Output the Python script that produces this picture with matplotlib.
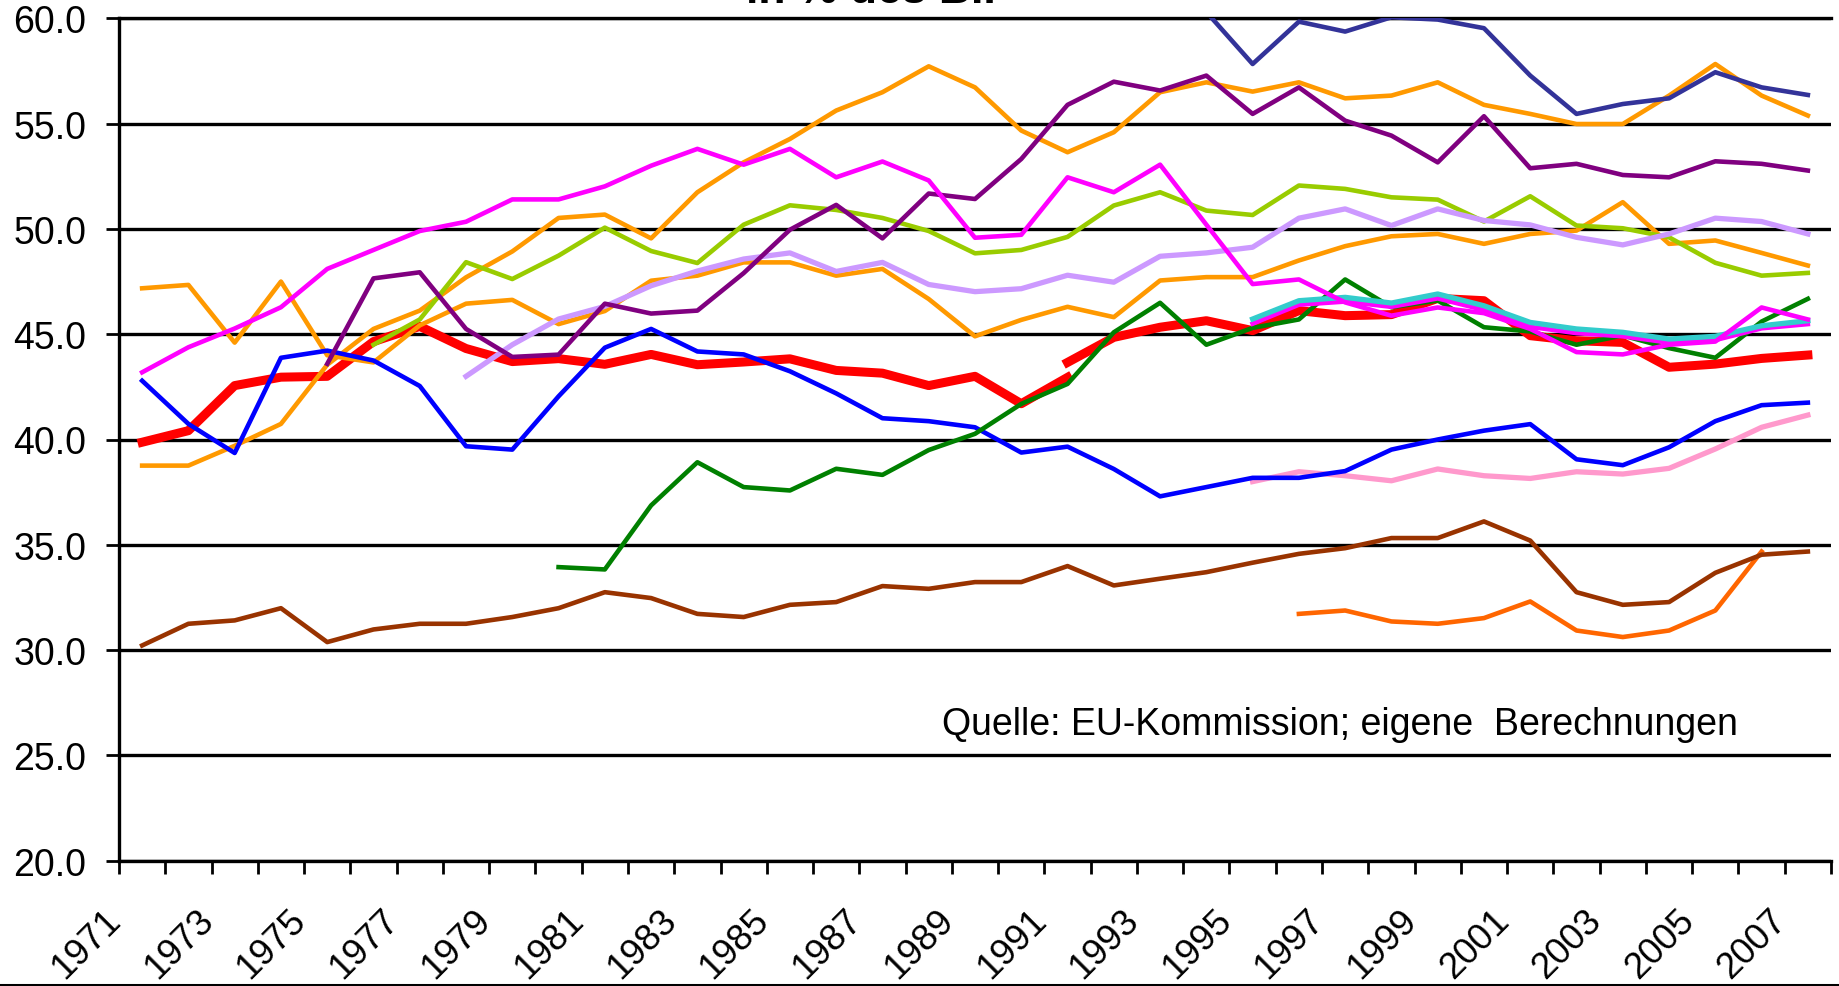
import numpy as np
import matplotlib
matplotlib.use("Agg")
import matplotlib.pyplot as plt
import matplotlib.ticker as ticker
from matplotlib.lines import Line2D
from matplotlib.transforms import ScaledTranslation

plt.rcParams['font.family'] = ['Liberation Sans', 'DejaVu Sans']

#DATEN (Staatsquote in % des BIP, 1971-2007)
jahre = list(range(1971, 2008))
jahr_labels = [str(j) for j in jahre[::2]]

rot_west = [39.87, 40.42, 42.56, 42.96, 43.0, 44.65, 45.37, 44.32, 43.7, 43.84, 43.57, 44.04,
            43.55, 43.68, 43.83, 43.28, 43.15, 42.56, 43.0, 41.7, 42.95] + [None] * 16
rot_gesamt = [None] * 20 + [43.66, 44.85, 45.33, 45.64, 45.17, 46.12, 45.88, 45.93, 46.7, 46.59,
                            44.93, 44.69, 44.61, 43.43, 43.58, 43.85, 44.01]
blau = [42.79, 40.74, 39.36, 43.88, 44.22, 43.75, 42.54, 39.68, 39.52, 42.05, 44.36, 45.25, 44.18,
        44.04, 43.24, 42.19, 41.01, 40.87, 40.58, 39.38, 39.66, 38.6, 37.3, 37.74, 38.18, 38.18,
        38.5, 39.52, 40.0, 40.42, 40.73, 39.06, 38.78, 39.63, 40.87, 41.63, 41.75]
magenta = [43.19, 44.38, 45.27, 46.28, 48.1, 49.0, 49.9, 50.34, 51.4, 51.4, 52.02, 53.0, 53.8,
           53.05, 53.8, 52.45, 53.2, 52.3, 49.58, 49.72, 52.45, 51.74, 53.05, 50.2, 47.38, 47.6,
           46.51, 45.88, 46.27, 46.0, 45.25, 44.15, 44.04, 44.5, 44.65, 46.27, 45.7]
orange_a = [47.18, 47.34, 44.6, 47.5, 44.0, 43.66, 45.42, 46.45, 46.63, 45.48, 46.1, 47.54, 47.78,
            48.41, 48.41, 47.78, 48.1, 46.67, 44.9, 45.68, 46.3, 45.81, 47.55, 47.71, 47.71, 48.5,
            49.18, 49.65, 49.76, 49.29, 49.76, 49.92, 51.27, 49.29, 49.45, 48.86, 48.26]
orange_b = [38.76, 38.76, 39.7, 40.74, 43.55, 45.25, 46.12, 47.7, 48.93, 50.52, 50.68, 49.55, 51.74,
            53.16, 54.27, 55.62, 56.49, 57.72, 56.72, 54.67, 53.64, 54.59, 56.49, 56.96, 56.52,
            56.96, 56.2, 56.33, 56.96, 55.89, 55.46, 54.98, 54.98, 56.33, 57.83, 56.33, 55.38]
hellgruen = [None] * 5 + [44.5, 45.7, 48.42, 47.62, 48.73, 50.06, 48.95, 48.38, 50.2, 51.12, 50.9,
                          50.52, 49.9, 48.84, 49.0, 49.62, 51.11, 51.74, 50.87, 50.66, 52.06, 51.9,
                          51.5, 51.39, 50.35, 51.55, 50.16, 50.03, 49.6, 48.39, 47.78, 47.91]
lila = [None] * 4 + [43.59, 47.65, 47.94, 45.25, 43.92, 44.03, 46.45, 45.98, 46.12, 47.9, 49.96,
                     51.14, 49.55, 51.68, 51.42, 53.32, 55.89, 56.99, 56.57, 57.28, 55.46, 56.72,
                     55.14, 54.43, 53.16, 55.35, 52.88, 53.09, 52.56, 52.45, 53.21, 53.09, 52.77]
flieder = [None] * 7 + [43.0, 44.5, 45.72, 46.32, 47.3, 48.0, 48.57, 48.86, 47.98, 48.41, 47.36,
                        47.02, 47.16, 47.8, 47.47, 48.7, 48.86, 49.13, 50.51, 50.95, 50.16, 50.95,
                        50.4, 50.19, 49.6, 49.24, 49.76, 50.51, 50.35, 49.76]
gruen = [None] * 9 + [33.94, 33.83, 36.87, 38.92, 37.74, 37.58, 38.61, 38.32, 39.5, 40.27, 41.69,
                      42.64, 45.09, 46.49, 44.5, 45.3, 45.7, 47.6, 46.28, 46.6, 45.33, 45.13, 44.5,
                      44.94, 44.34, 43.88, 45.6, 46.68]
dunkelblau = [None] * 23 + [60.3, 57.83, 59.84, 59.37, 60.05, 59.94, 59.53, 57.28, 55.46, 55.93,
                            56.2, 57.44, 56.72, 56.36]
tuerkis = [None] * 24 + [45.72, 46.59, 46.75, 46.48, 46.91, 46.35, 45.56, 45.25, 45.09, 44.77,
                         44.9, 45.4, 45.64]
magenta_2 = [None] * 24 + [45.5, 46.4, 46.55, 46.3, 46.7, 46.15, 45.35, 45.05, 44.9, 44.6, 44.72,
                           45.28, 45.48]
rosa = [None] * 24 + [38.0, 38.47, 38.28, 38.04, 38.6, 38.28, 38.15, 38.47, 38.36, 38.63, 39.55,
                      40.58, 41.16]
braun = [30.22, 31.25, 31.41, 31.99, 30.38, 30.98, 31.25, 31.25, 31.57, 31.99, 32.75, 32.47, 31.72,
         31.57, 32.15, 32.28, 33.04, 32.91, 33.23, 33.23, 33.99, 33.07, 33.39, 33.7, 34.15, 34.57,
         34.84, 35.32, 35.32, 36.11, 35.2, 32.75, 32.15, 32.28, 33.67, 34.53, 34.68]
dunkelorange = [None] * 25 + [31.72, 31.88, 31.36, 31.25, 31.52, 32.31, 30.93, 30.62, 30.93, 31.88,
                              34.68, None]

#GRAFIK
fig = plt.figure(figsize=(18.39, 9.87), dpi=100)
ax = fig.add_axes([119 / 1839, 1 - 861.7 / 987, 1712 / 1839, 842.4 / 987])
x = np.arange(len(jahre))


def linie(werte, farbe, lw=3.3):
    y = np.array([np.nan if v is None else v for v in werte], dtype=float)
    ax.plot(x, y, color=farbe, lw=lw, zorder=3)


# reihenfolge = zeichenreihenfolge (unten -> oben)
linie(rot_west, '#FF0000', 6.5)
linie(rot_gesamt, '#FF0000', 6.5)
linie(rosa, '#FF99CC', 3.8)
linie(orange_a, '#FF9900')
linie(orange_b, '#FF9900')
linie(blau, '#0000FF')
linie(hellgruen, '#99CC00')
linie(flieder, '#CC99FF', 3.8)
linie(lila, '#800080')
linie(gruen, '#008000')
linie(dunkelblau, '#333399')
linie(dunkelorange, '#FF6600')
linie(braun, '#993300')
linie(magenta_2, '#FF00FF')
linie(tuerkis, '#33CCCC', 3.8)
linie(magenta, '#FF00FF')

#achsen
ax.set_xlim(-0.5, len(jahre) - 0.5)
ax.set_ylim(20, 60)
ax.set_yticks(np.arange(20, 61, 5))
ax.yaxis.set_major_formatter(ticker.FormatStrFormatter('%.1f'))
ax.yaxis.grid(True, color='black', lw=2.4)
ax.set_axisbelow(True)
ax.spines['right'].set_visible(False)
for s in ['left', 'bottom', 'top']:
    ax.spines[s].set_color('black')
    ax.spines[s].set_linewidth(2.4)

ax.tick_params(axis='y', direction='out', length=9.7, width=2, pad=14, labelsize=27)

ax.set_xticks(x[::2])
ax.set_xticklabels(jahr_labels)
ax.set_xticks(np.arange(-0.5, len(jahre), 1), minor=True)
ax.tick_params(axis='x', which='major', length=0, pad=10, labelsize=26.5)
ax.tick_params(axis='x', which='minor', direction='out', length=9.5, width=2)
for lab in ax.get_xticklabels():
    lab.set_rotation(45)
    lab.set_ha('right')
    lab.set_va('top')
    lab.set_rotation_mode('anchor')

# jahreszahlen so verschieben, dass "1971" oben rechts bei ca. (128, 903) px liegt
fig.canvas.draw()
erstes = ax.get_xticklabels()[0].get_window_extent()
dx = 128 - erstes.x1
dy = (987 - 903) - erstes.y1
verschiebung = ScaledTranslation(dx / 100, dy / 100, fig.dpi_scale_trans)
for lab in ax.get_xticklabels():
    lab.set_transform(lab.get_transform() + verschiebung)

#texte (titel ist im original oben abgeschnitten)
fig.text(880 / 1839, 1 - 3 / 987, 'in % des BIP', fontsize=32, fontweight='bold',
         ha='center', va='baseline')
fig.text(942 / 1839, 1 - 735 / 987, 'Quelle: EU-Kommission; eigene  Berechnungen',
         fontsize=27, va='baseline')

# rahmenlinie unten
fig.add_artist(Line2D([0, 1], [1.5 / 987, 1.5 / 987], transform=fig.transFigure,
                      color='black', lw=2.2))

fig.savefig('out.png', dpi=100)
